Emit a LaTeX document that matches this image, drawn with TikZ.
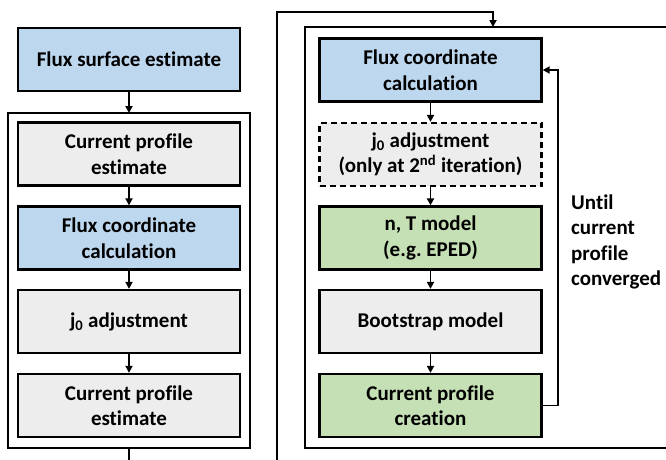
\documentclass[tikz,border=0pt]{standalone}
\usepackage{fontspec}
\setmainfont{Carlito}[Ligatures=NoCommon]
\usetikzlibrary{arrows.meta}
\definecolor{cblue}{HTML}{BDD7EE}
\definecolor{cgray}{HTML}{EDEDED}
\definecolor{cgreen}{HTML}{C5E0B4}
\tikzset{
  box/.style={draw=black, line width=2.3pt, minimum width=222pt, minimum height=63pt,
    align=center, font=\fontsize{21}{25.5}\selectfont\bfseries, inner sep=0pt},
  bluebox/.style={box, fill=cblue},
  graybox/.style={box, fill=cgray},
  greenbox/.style={box, fill=cgreen},
  dashbox/.style={box, fill=cgray, dash pattern=on 6pt off 4pt},
  frame/.style={draw=black, line width=2.3pt},
  conn/.style={draw=black, line width=1.9pt, -{Triangle[length=7pt,width=7pt]}},
  line/.style={draw=black, line width=1.9pt},
}
\frenchspacing
\begin{document}
\begin{tikzpicture}[x=1pt,y=-1pt]
\useasboundingbox (0,0) rectangle (666,459);
\clip (0,0) rectangle (666,459);
% left frame
\draw[frame] (8,113) rectangle (250,448);
% right frame
\draw[frame] (305,27) rectangle (700,448);
% left column
\node[bluebox] (fse) at (129,59.5) {Flux surface estimate};
\node[graybox] (cpe1) at (129,154) {Current profile\\estimate};
\node[bluebox] (fcc1) at (129,238) {Flux coordinate\\calculation};
\node[graybox] (j01) at (129,321.5) {j\textsubscript{0} adjustment};
\node[graybox] (cpe2) at (129,405.5) {Current profile\\estimate};
% right column
\node[bluebox] (fcc2) at (430.5,70) {Flux coordinate\\calculation};
\node[dashbox] (j02) at (430.5,154.5) {j\textsubscript{0} adjustment\\(only at 2\textsuperscript{nd} iteration)};
\node[greenbox] (nt) at (430.5,238) {n, T model\\(e.g. EPED)};
\node[graybox] (boot) at (430.5,321.5) {Bootstrap model};
\node[greenbox] (cpc) at (430.5,405.5) {Current profile\\creation};
\node[align=left, anchor=west, font=\fontsize{21}{25.5}\selectfont\bfseries, inner sep=0pt] (until) at (571,242) {Until\\current\\profile\\converged};
% coordinates
\coordinate (ftop) at (129,113);
\coordinate (lbot) at (129,448);
\coordinate (lend) at (129,470);
\coordinate (o1) at (277,470);
\coordinate (o2) at (277,12);
\coordinate (o3) at (493,12);
\coordinate (rtop) at (493,27);
\coordinate (fb1) at (558,405.5);
\coordinate (fb2) at (558,70);
% connectors
\draw[conn] (fse) -- (ftop);
\draw[conn] (cpe1) -- (fcc1);
\draw[conn] (fcc1) -- (j01);
\draw[conn] (j01) -- (cpe2);
\draw[line] (lbot) -- (lend);
\draw[conn] (o1) -- (o2) -- (o3) -- (rtop);
\draw[conn] (fcc2) -- (j02);
\draw[conn] (j02) -- (nt);
\draw[conn] (nt) -- (boot);
\draw[conn] (boot) -- (cpc);
\draw[conn] (cpc.east) -- (fb1) -- (fb2) -- (fcc2.east);
\end{tikzpicture}
\end{document}
